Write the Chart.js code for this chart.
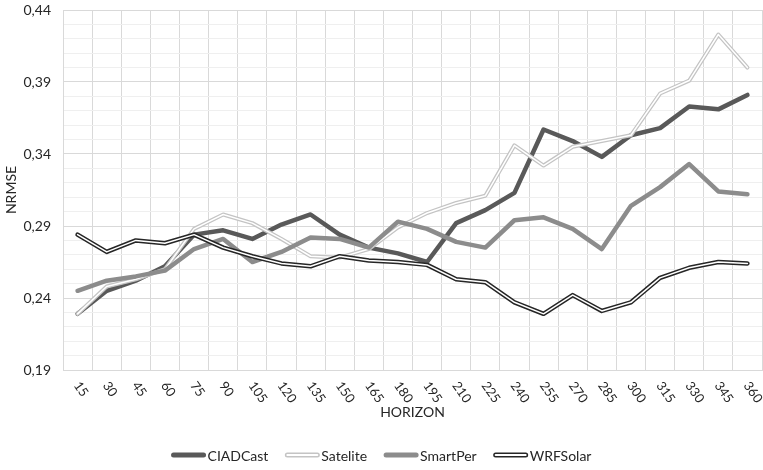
<!DOCTYPE html>
<html>
<head>
<meta charset="utf-8">
<script src="https://cdn.jsdelivr.net/npm/chart.js@4/dist/chart.umd.min.js"></script>
<style>
    html, body { margin: 0; padding: 0; background: #ffffff; }
    #wrap { position: relative; width: 763px; height: 470px; }
</style>
</head>
<body>
<div id="wrap"><canvas id="nrmseChart"></canvas></div>
<script>
// --- Data ---
const horizons = ['15', '30', '45', '60', '75', '90', '105', '120', '135', '150', '165', '180',
    '195', '210', '225', '240', '255', '270', '285', '300', '315', '330', '345', '360'];

const ciadcast = [0.229, 0.245, 0.252, 0.262, 0.284, 0.287, 0.281, 0.291, 0.298, 0.284, 0.275, 0.271,
    0.265, 0.292, 0.301, 0.313, 0.357, 0.349, 0.338, 0.353, 0.358, 0.373, 0.371, 0.381];
const satelite = [0.229, 0.248, 0.253, 0.260, 0.288, 0.298, 0.292, 0.281, 0.269, 0.268, 0.274, 0.289,
    0.299, 0.306, 0.311, 0.346, 0.332, 0.345, 0.349, 0.353, 0.382, 0.391, 0.423, 0.400];
const smartper = [0.245, 0.252, 0.255, 0.259, 0.274, 0.281, 0.265, 0.272, 0.282, 0.281, 0.275, 0.293,
    0.288, 0.279, 0.275, 0.294, 0.296, 0.288, 0.274, 0.304, 0.317, 0.333, 0.314, 0.312];
const wrfsolar = [0.284, 0.272, 0.280, 0.278, 0.284, 0.275, 0.269, 0.264, 0.262, 0.269, 0.266, 0.265,
    0.263, 0.253, 0.251, 0.237, 0.229, 0.242, 0.231, 0.237, 0.254, 0.261, 0.265, 0.264];

const yTicks = [0.19, 0.24, 0.29, 0.34, 0.39, 0.44];

const FONT = 'Lato, "Liberation Sans", sans-serif';
const TEXT = '#262626';

// legend entries: line sample look for each series
const legendItems = [
    { text: 'CIADCast', outer: '#595959', inner: null },
    { text: 'Satelite', outer: '#c4c4c4', inner: '#ffffff' },
    { text: 'SmartPer', outer: '#8c8c8c', inner: null },
    { text: 'WRFSolar', outer: '#262626', inner: '#ffffff' }
];

function isMajor(v) {
    return yTicks.some(t => Math.abs(t - v) < 1e-6);
}

function line(label, data, color, width, order) {
    return {
        label: label,
        data: data,
        borderColor: color,
        backgroundColor: color,
        borderWidth: width,
        pointRadius: 0,
        pointHoverRadius: 0,
        tension: 0,
        fill: false,
        borderJoinStyle: 'round',
        borderCapStyle: 'round',
        order: order
    };
}

// --- Plugin: rotated x labels (reading downwards) + custom legend ---
const extrasPlugin = {
    id: 'extras',
    afterDraw(chart) {
        const ctx = chart.ctx;
        const xs = chart.scales.x;
        const bottom = chart.chartArea.bottom;

        ctx.save();
        ctx.fillStyle = TEXT;
        ctx.font = '13px ' + FONT;
        ctx.textAlign = 'left';
        ctx.textBaseline = 'middle';
        horizons.forEach((h, i) => {
            const x = xs.getPixelForTick(i);
            ctx.save();
            ctx.translate(x - 1, bottom + 13);
            ctx.rotate(55 * Math.PI / 180);
            ctx.fillText(h, 0, 0);
            ctx.restore();
        });
        ctx.restore();

        // legend
        const sampleW = 34, gapText = 2, gapItem = 17, y = 455;
        ctx.save();
        ctx.font = '14px ' + FONT;
        ctx.textBaseline = 'middle';
        ctx.textAlign = 'left';
        const widths = legendItems.map(it => sampleW + gapText + ctx.measureText(it.text).width);
        const total = widths.reduce((a, b) => a + b, 0) + gapItem * (legendItems.length - 1);
        let x = (chart.width - total) / 2;
        legendItems.forEach((it, i) => {
            ctx.lineCap = 'round';
            ctx.strokeStyle = it.outer;
            ctx.lineWidth = 5;
            ctx.beginPath();
            ctx.moveTo(x + 2, y);
            ctx.lineTo(x + sampleW - 2, y);
            ctx.stroke();
            if (it.inner) {
                ctx.strokeStyle = it.inner;
                ctx.lineWidth = 2;
                ctx.beginPath();
                ctx.moveTo(x + 2, y);
                ctx.lineTo(x + sampleW - 2, y);
                ctx.stroke();
            }
            ctx.fillStyle = TEXT;
            ctx.fillText(it.text, x + sampleW + gapText, y + 1);
            x += widths[i] + gapItem;
        });
        ctx.restore();
    }
};

// --- Chart ---
const ctx = document.getElementById('nrmseChart').getContext('2d');
new Chart(ctx, {
    type: 'line',
    data: {
        labels: horizons,
        datasets: [
            line('CIADCast', ciadcast, '#595959', 4.5, 10),
            line('Satelite', satelite, '#c4c4c4', 4, 9),
            line('Satelite-inner', satelite, '#ffffff', 1.5, 8),
            line('SmartPer', smartper, '#8c8c8c', 4.5, 7),
            line('WRFSolar', wrfsolar, '#262626', 4.5, 6),
            line('WRFSolar-inner', wrfsolar, '#ffffff', 1.5, 5)
        ]
    },
    options: {
        responsive: true,
        maintainAspectRatio: false,
        animation: false,
        layout: { padding: { left: 0, right: 1, top: 10, bottom: 45 } },
        plugins: {
            legend: { display: false },
            tooltip: { enabled: false }
        },
        scales: {
            x: {
                offset: true,
                grid: { offset: true, color: '#d9d9d9', drawTicks: false },
                border: { color: '#d9d9d9' },
                ticks: { display: false },
                title: {
                    display: true,
                    text: 'HORIZON',
                    color: TEXT,
                    font: { family: FONT, size: 14 },
                    padding: { top: 0, bottom: 4 }
                },
                afterFit: function (scale) { scale.height = 55; }
            },
            y: {
                min: 0.19,
                max: 0.44,
                grid: {
                    drawTicks: true,
                    tickLength: 12,
                    tickColor: 'rgba(0,0,0,0)',
                    color: c => isMajor(c.tick.value) ? '#d9d9d9' : '#efefef'
                },
                border: { color: '#d9d9d9' },
                ticks: {
                    stepSize: 0.01,
                    autoSkip: false,
                    padding: 0,
                    color: TEXT,
                    font: { family: FONT, size: 14 },
                    callback: function (value) {
                        return isMajor(value) ? value.toFixed(2).replace('.', ',') : '';
                    }
                },
                title: {
                    display: true,
                    text: 'NRMSE',
                    color: TEXT,
                    font: { family: FONT, size: 14 },
                    padding: { top: 3, bottom: 0 }
                },
                afterFit: function (scale) { scale.width = 63; }
            }
        }
    },
    plugins: [extrasPlugin]
});
</script>
</body>
</html>
